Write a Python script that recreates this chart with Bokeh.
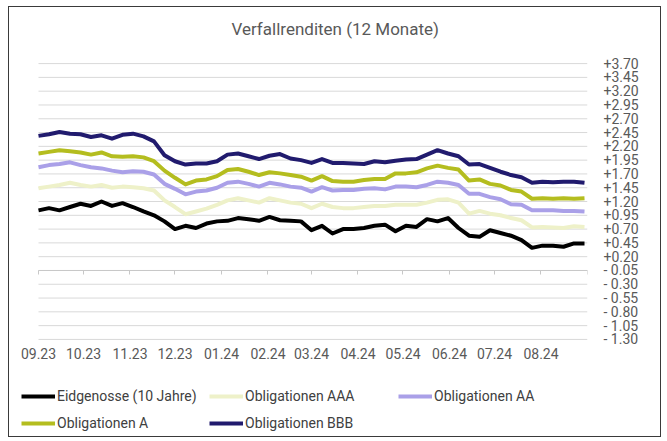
import pandas as pd
from bokeh.plotting import figure
from bokeh.models import (Range1d, FixedTicker, LinearAxis, Legend, LegendItem,
                          ColumnDataSource, Title)
from bokeh.embed import file_html
from bokeh.resources import INLINE

# ---------------- data ----------------
start_date = "2023-09-01"
dates = pd.date_range(start_date, periods=53, freq="7D")

eidgenosse = [1.04, 1.08, 1.04, 1.10, 1.16, 1.12, 1.20, 1.12, 1.17, 1.10, 1.02, 0.95, 0.84,
              0.70, 0.76, 0.72, 0.80, 0.84, 0.85, 0.90, 0.88, 0.85, 0.92, 0.86, 0.85, 0.84,
              0.68, 0.76, 0.62, 0.70, 0.70, 0.72, 0.76, 0.78, 0.66, 0.76, 0.74, 0.88, 0.84,
              0.90, 0.72, 0.58, 0.56, 0.68, 0.63, 0.58, 0.50, 0.36, 0.40, 0.40, 0.38, 0.44, 0.44]
oblig_aaa = [1.44, 1.47, 1.50, 1.54, 1.50, 1.47, 1.50, 1.45, 1.47, 1.46, 1.44, 1.40, 1.22,
             1.10, 0.97, 1.02, 1.07, 1.14, 1.22, 1.26, 1.22, 1.18, 1.26, 1.22, 1.18, 1.16,
             1.08, 1.16, 1.10, 1.08, 1.08, 1.10, 1.12, 1.12, 1.14, 1.14, 1.14, 1.18, 1.23,
             1.24, 1.18, 0.98, 1.03, 0.98, 0.95, 0.90, 0.86, 0.73, 0.74, 0.73, 0.72, 0.75, 0.74]
oblig_aa = [1.82, 1.86, 1.88, 1.91, 1.86, 1.82, 1.80, 1.76, 1.73, 1.75, 1.74, 1.69, 1.52,
            1.43, 1.33, 1.38, 1.40, 1.45, 1.54, 1.56, 1.52, 1.47, 1.54, 1.51, 1.47, 1.45,
            1.38, 1.46, 1.40, 1.41, 1.41, 1.43, 1.44, 1.42, 1.47, 1.47, 1.46, 1.50, 1.56,
            1.54, 1.50, 1.34, 1.34, 1.28, 1.24, 1.15, 1.14, 1.04, 1.04, 1.04, 1.03, 1.03, 1.02]
oblig_a = [2.07, 2.10, 2.13, 2.11, 2.09, 2.05, 2.09, 2.02, 2.01, 2.02, 2.00, 1.93, 1.76,
           1.63, 1.51, 1.58, 1.60, 1.66, 1.77, 1.79, 1.74, 1.68, 1.73, 1.71, 1.68, 1.65,
           1.58, 1.66, 1.57, 1.56, 1.56, 1.59, 1.61, 1.61, 1.71, 1.71, 1.73, 1.80, 1.85,
           1.81, 1.78, 1.58, 1.60, 1.52, 1.49, 1.41, 1.38, 1.25, 1.26, 1.25, 1.26, 1.25, 1.26]
oblig_bbb = [2.39, 2.42, 2.46, 2.43, 2.42, 2.37, 2.40, 2.34, 2.41, 2.43, 2.38, 2.29, 2.04,
             1.93, 1.87, 1.89, 1.89, 1.93, 2.05, 2.07, 2.02, 1.97, 2.03, 2.06, 1.98, 1.95,
             1.90, 1.97, 1.90, 1.90, 1.89, 1.88, 1.93, 1.91, 1.94, 1.96, 1.97, 2.05, 2.13,
             2.07, 2.02, 1.87, 1.88, 1.81, 1.74, 1.68, 1.64, 1.54, 1.56, 1.55, 1.56, 1.56, 1.54]

series_names = ["Eidgenosse (10 Jahre)", "Obligationen AAA", "Obligationen AA",
                "Obligationen A", "Obligationen BBB"]
series_colors = ["#000000", "#eef1c9", "#aaa0e8", "#b4bd1f", "#211b6e"]

month_starts = ["2023-09-01", "2023-10-01", "2023-11-01", "2023-12-01", "2024-01-01",
                "2024-02-01", "2024-03-01", "2024-04-01", "2024-05-01", "2024-06-01",
                "2024-07-01", "2024-08-01", "2024-09-01"]
month_labels = ["09.23", "10.23", "11.23", "12.23", "01.24", "02.24", "03.24", "04.24",
                "05.24", "06.24", "07.24", "08.24"]

y_ticks = [3.70, 3.45, 3.20, 2.95, 2.70, 2.45, 2.20, 1.95, 1.70, 1.45, 1.20, 0.95, 0.70,
           0.45, 0.20, -0.05, -0.30, -0.55, -0.80, -1.05, -1.30]
y_labels = ["+3.70", "+3.45", "+3.20", "+2.95", "+2.70", "+2.45", "+2.20", "+1.95", "+1.70",
            "+1.45", "+1.20", "+0.95", "+0.70", "+0.45", "+0.20", "- 0.05", "- 0.30",
            "- 0.55", "- 0.80", "- 1.05", "- 1.30"]
axis_value = -0.05

# ---------------- build ----------------
t0 = pd.Timestamp(start_date)
x_days = [(d - t0).days for d in dates]
tick_days = [(pd.Timestamp(m) - t0).days for m in month_starts]

FONT = "Roboto"
GREY = "#595959"

p = figure(width=653, height=431, output_backend="svg", toolbar_location=None,
           x_range=Range1d(-19.33, tick_days[-1]), y_range=Range1d(-3.096, 3.72),
           x_axis_location=None, y_axis_location=None,
           min_border_left=0, min_border_right=75, min_border_top=55, min_border_bottom=0)
p.styles = {"border": "1px solid #3a3a3a", "margin": "6px 0px 0px 8px"}
p.outline_line_color = None
p.background_fill_color = "white"
p.border_fill_color = "white"
p.xgrid.visible = False
p.ygrid.visible = False

# empty spacer between the title and the plot area
p.add_layout(Title(text=" ", text_font_size="1px", standoff=19), "above")

p.title.text = "Verfallrenditen (12 Monate)"
p.title.align = "left"
p.title.offset = 222
p.title.vertical_align = "top"
p.title.text_font = FONT
p.title.text_font_size = "17px"
p.title.text_line_height = 1.0
p.title.text_font_style = "normal"
p.title.text_color = GREY
p.title.standoff = 0

# horizontal gridlines spanning the 12 months
grid_src = ColumnDataSource(dict(y=y_ticks, x0=[tick_days[0]] * len(y_ticks),
                                 x1=[tick_days[-1]] * len(y_ticks)))
p.segment(x0="x0", y0="y", x1="x1", y1="y", source=grid_src,
          line_color="#d9d9d9", line_width=1)

# axis line inside the plot at -0.05 with month ticks
xline = LinearAxis(ticker=FixedTicker(ticks=tick_days), fixed_location=axis_value,
                   bounds=(tick_days[0], tick_days[-1]))
xline.axis_line_color = "#c8c8c8"
xline.axis_line_width = 1
xline.major_tick_line_color = "#c8c8c8"
xline.major_tick_out = 4
xline.major_tick_in = 0
xline.minor_tick_line_color = None
xline.major_label_text_font_size = "0px"
xline.major_label_text_alpha = 0
p.add_layout(xline, "below")

# month labels below the last gridline
xlab = LinearAxis(ticker=FixedTicker(ticks=tick_days[:-1]), fixed_location=-1.32,
                  major_label_overrides={d: l for d, l in zip(tick_days[:-1], month_labels)})
xlab.axis_line_color = None
xlab.major_tick_line_color = None
xlab.minor_tick_line_color = None
xlab.major_tick_out = 0
xlab.major_tick_in = 0
xlab.major_label_standoff = 7
xlab.major_label_text_font = FONT
xlab.major_label_text_font_size = "14px"
xlab.major_label_text_color = GREY
p.add_layout(xlab, "below")

# right axis labels
yax = LinearAxis(ticker=FixedTicker(ticks=y_ticks),
                 major_label_overrides={v: l for v, l in zip(y_ticks, y_labels)})
yax.axis_line_color = None
yax.major_tick_line_color = None
yax.minor_tick_line_color = None
yax.major_tick_out = 0
yax.major_tick_in = 0
yax.major_label_standoff = 16
yax.major_label_text_font = FONT
yax.major_label_text_font_size = "14px"
yax.major_label_text_color = GREY
p.add_layout(yax, "right")

renderers = []
for name, vals, col in zip(series_names,
                           [eidgenosse, oblig_aaa, oblig_aa, oblig_a, oblig_bbb],
                           series_colors):
    src = ColumnDataSource(dict(x=x_days, y=vals))
    r = p.line("x", "y", source=src, line_color=col, line_width=4, line_join="round")
    renderers.append(r)

# legends: three columns
columns = [[0, 3], [1, 4], [2]]
col_x = [12, 200, 389]
for idxs, lx in zip(columns, col_x):
    leg = Legend(items=[LegendItem(label=series_names[i], renderers=[renderers[i]]) for i in idxs],
                 location=(lx, 5 if len(idxs) == 2 else 32))
    leg.orientation = "vertical"
    leg.border_line_color = None
    leg.background_fill_alpha = 0
    leg.padding = 0
    leg.margin = 0
    leg.spacing = 7
    leg.glyph_width = 34
    leg.glyph_height = 20
    leg.label_height = 20
    leg.label_standoff = 2
    leg.label_text_font = FONT
    leg.label_text_font_size = "14px"
    leg.label_text_color = "#404040"
    p.add_layout(leg, "center")

open("out.html", "w").write(file_html(p, INLINE))
